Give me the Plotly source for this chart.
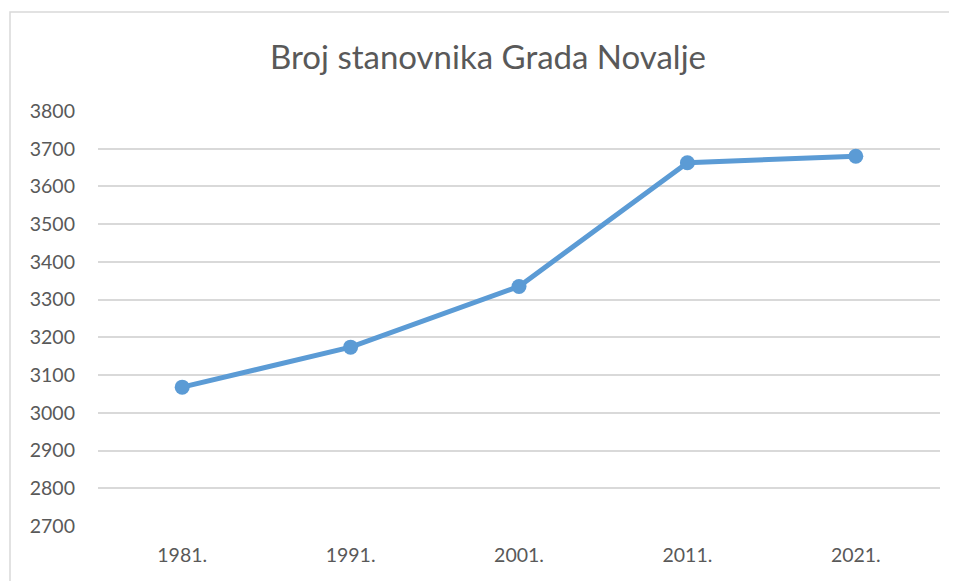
import plotly.graph_objects as go

years = ["1981.", "1991.", "2001.", "2011.", "2021."]
population = [3068, 3174, 3335, 3663, 3680]
y_ticks = list(range(2700, 3801, 100))

W, H = 957, 581
OFF = 8  # page body margin offset
L, R, T, B = 98 - OFF, 957 - (940 - OFF), 111 - OFF, 581 - (526 - OFF)
pw, ph = W - L - R, H - T - B

fig = go.Figure()
fig.add_trace(go.Scatter(
    x=years, y=population, mode="lines+markers",
    line=dict(color="#5B9BD5", width=5),
    marker=dict(color="#5B9BD5", size=15),
    showlegend=False,
))

font_family = "Lato, 'Open Sans', sans-serif"
fig.update_layout(
    width=W, height=H,
    margin=dict(l=L, r=R, t=T, b=B),
    paper_bgcolor="white", plot_bgcolor="white",
    title=dict(text="Broj stanovnika Grada Novalje", x=(488 - OFF) / W, xanchor="center",
               y=1 - (57 - OFF) / H, yanchor="middle", yref="container",
               font=dict(family=font_family, size=33, color="#595959")),
    xaxis=dict(type="category", range=[-0.5, 4.5], showgrid=False, zeroline=False,
               showline=False, ticks="", tickfont=dict(family=font_family, size=19.5, color="#595959"),
               ticklabelstandoff=15),
    yaxis=dict(range=[2700, 3800], tickvals=y_ticks, showgrid=True, gridcolor="#D9D9D9",
               gridwidth=1.5, zeroline=False, showline=False, ticks="",
               tickfont=dict(family=font_family, size=19.5, color="#595959"),
               ticklabelstandoff=22),
    shapes=[dict(type="rect", xref="paper", yref="paper",
                 x0=(10 - OFF - L) / pw, x1=(W + 20 - L) / pw,
                 y0=-(H + 20 - (H - B)) / ph, y1=((H - B) - (12 - OFF)) / ph,
                 line=dict(color="#D9D9D9", width=1.5), fillcolor="rgba(0,0,0,0)", layer="below")],
)

fig.write_html("out.html")
